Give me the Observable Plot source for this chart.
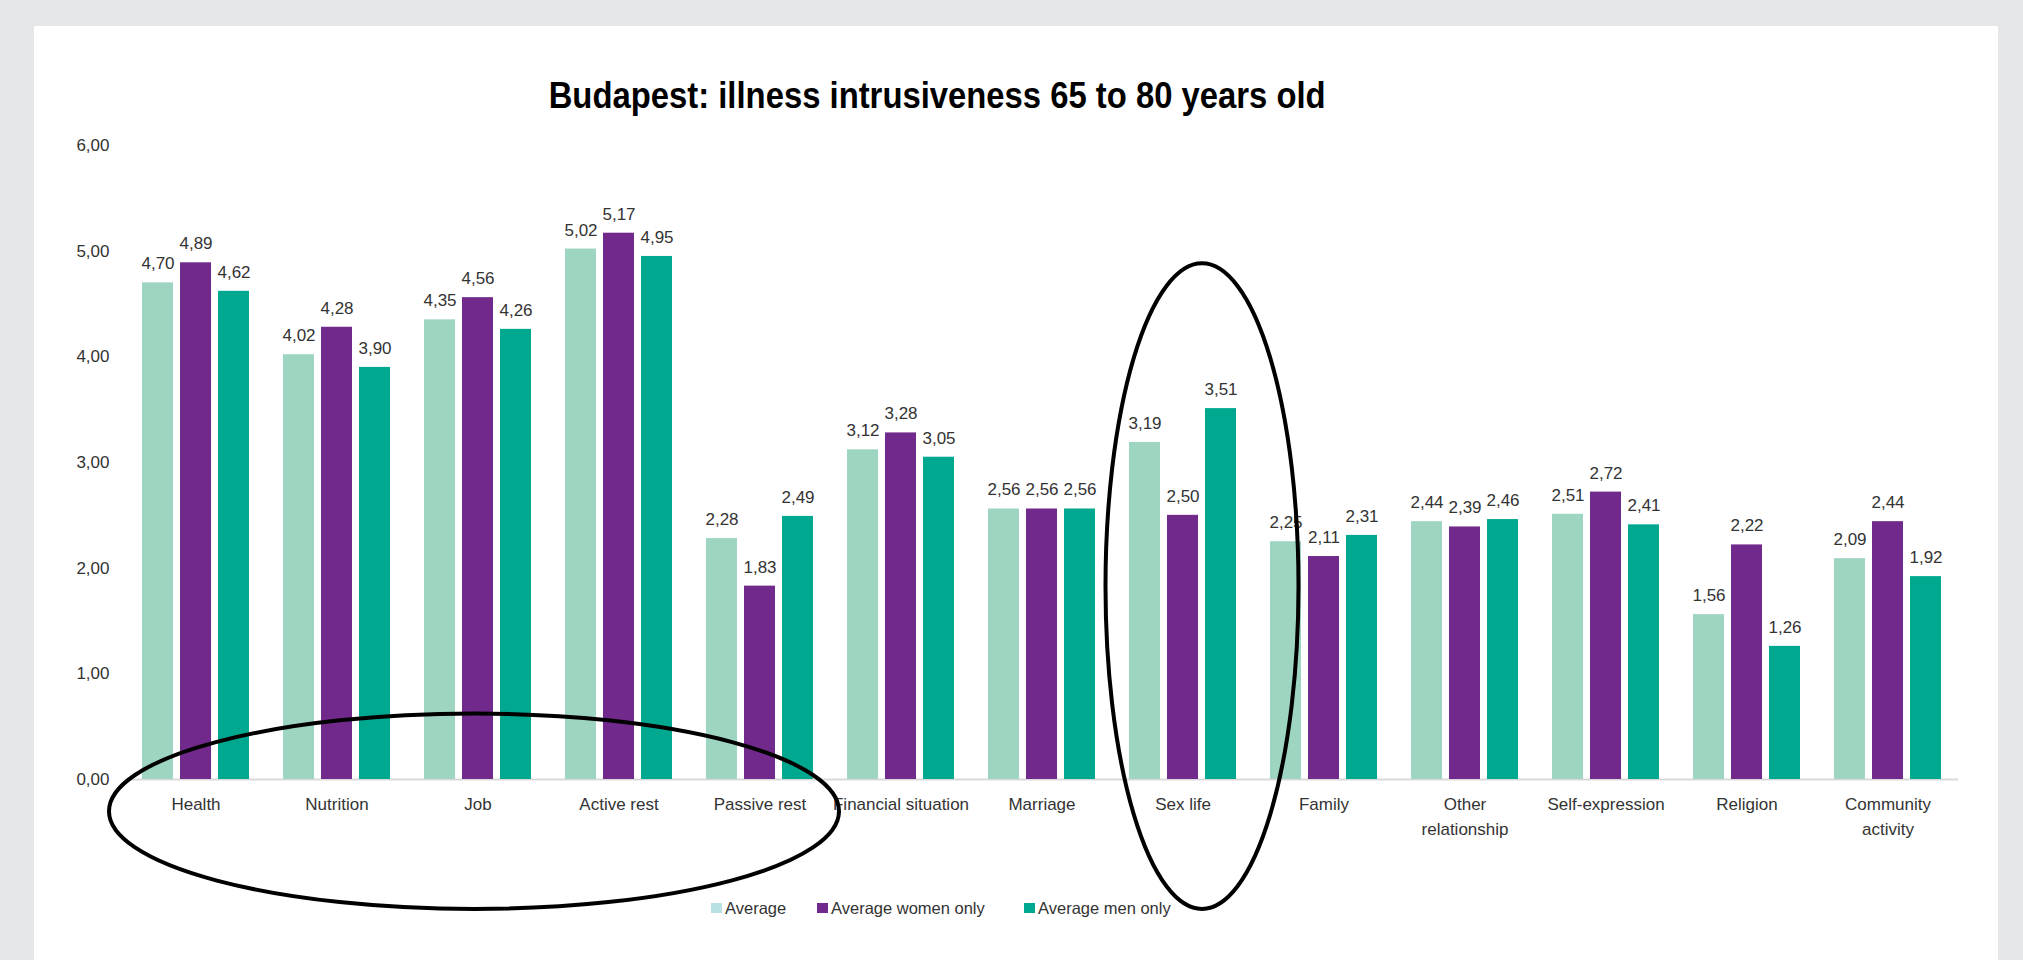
<!DOCTYPE html>
<html>
<head>
<meta charset="utf-8">
<script src="https://cdn.jsdelivr.net/npm/d3@7"></script>
<script src="https://cdn.jsdelivr.net/npm/@observablehq/plot@0.6"></script>
<style>
  html, body { margin: 0; padding: 0; }
  body { width: 2023px; height: 960px; overflow: hidden; background: #e6e7e9; font-family: "Liberation Sans", Arial, sans-serif; }
  #panel { position: absolute; left: 34px; top: 26px; width: 1964px; height: 934px; background: #ffffff; }
  #title { position: absolute; left: 0; top: 52px; width: 1807px; text-align: center; font-size: 36px; line-height: 36px; font-weight: bold; color: #000; white-space: nowrap; }
  #title span { display: inline-block; transform-origin: 50% 50%; }
  #chart { position: absolute; left: 0; top: 100px; }
  #legend { position: absolute; left: 0; top: 872px; width: 1964px; height: 20px; }
  .item { position: absolute; top: 0; height: 20px; display: flex; align-items: center; font-size: 16.5px; color: #333; white-space: nowrap; }
  .sw { width: 11px; height: 10px; margin-right: 3px; }
</style>
</head>
<body>
<div id="panel">
  <div id="title"><span>Budapest: illness intrusiveness 65 to 80 years old</span></div>
  <div id="chart"></div>
  <div id="legend"></div>
</div>
<script>
// ---- data ----
const categories = ["Health", "Nutrition", "Job", "Active rest", "Passive rest", "Financial situation", "Marriage", "Sex life", "Family", "Other relationship", "Self-expression", "Religion", "Community activity"];
const tickLabels = ["Health", "Nutrition", "Job", "Active rest", "Passive rest", "Financial situation", "Marriage", "Sex life", "Family", "Other\nrelationship", "Self-expression", "Religion", "Community\nactivity"];
const seriesNames = ["Average", "Average women only", "Average men only"];
const average = [4.70, 4.02, 4.35, 5.02, 2.28, 3.12, 2.56, 3.19, 2.25, 2.44, 2.51, 1.56, 2.09];
const women   = [4.89, 4.28, 4.56, 5.17, 1.83, 3.28, 2.56, 2.50, 2.11, 2.39, 2.72, 2.22, 2.44];
const men     = [4.62, 3.90, 4.26, 4.95, 2.49, 3.05, 2.56, 3.51, 2.31, 2.46, 2.41, 1.26, 1.92];
const yTicks = [0, 1, 2, 3, 4, 5, 6];
// hand-drawn highlight ellipses, in data terms (categories spanned, value range)
const annotations = [
  { from: "Health", to: "Passive rest", top: 0.62, bottom: -1.23 },
  { from: "Sex life", to: "Sex life", top: 4.88, bottom: -1.23 }
];

// ---- styles ----
const seriesColors = ["#9dd5c1", "#71298c", "#00a88f"];
const legendColors = ["#b9e0e2", "#71298c", "#00a88f"];
const annotationStyle = [{ padX: 12.5, shiftX: -3.5 }, { padX: 26, shiftX: 19.5 }];
const legendLefts = [677, 783, 990];

const values = [average, women, men];
const rows = categories.flatMap((c, i) => seriesNames.map((s, j) => ({ category: c, series: s, value: values[j][i] })));
const fmt = v => v.toFixed(2).replace(".", ",");

const chart = Plot.plot({
  width: 1964,
  height: 770,
  marginTop: 19,
  marginLeft: 88,
  marginRight: 38,
  marginBottom: 117,
  style: { fontFamily: "'Liberation Sans', Arial, sans-serif", fontSize: "17px", color: "#333", background: "transparent", overflow: "visible" },
  fx: { domain: categories, padding: 0, label: null, axis: null },
  x: { domain: seriesNames, paddingInner: 0.187, paddingOuter: 0.406, axis: null },
  y: { domain: [0, 6], ticks: yTicks, tickFormat: fmt, tickSize: 0, tickPadding: 16, label: null },
  color: { domain: seriesNames, range: seriesColors },
  marks: [
    Plot.ruleY([0], { stroke: "#d9d9d9", strokeWidth: 2 }),
    Plot.barY(rows, { fx: "category", x: "series", y: "value", fill: "series" }),
    Plot.text(rows, { fx: "category", x: "series", y: "value", text: d => fmt(d.value), dy: -19, fontSize: 17, fill: "#333" }),
    Plot.axisFx({ anchor: "bottom", tickSize: 0, tickPadding: 12, tickFormat: d => tickLabels[categories.indexOf(d)], lineHeight: 1.5, fontSize: 17, label: null })
  ]
});
document.getElementById("chart").appendChild(chart);

// ---- annotation ellipses via the plot's own scales ----
const fxS = chart.scale("fx");
const yS = chart.scale("y");
const fxApply = fxS.apply ? (v => fxS.apply(v)) : (() => {
  const s = d3.scaleBand(fxS.domain, fxS.range).paddingInner(fxS.paddingInner ?? 0).paddingOuter(fxS.paddingOuter ?? 0).align(fxS.align ?? 0.5);
  return v => s(v);
})();
const bw = fxS.bandwidth != null ? fxS.bandwidth : (fxS.range[1] - fxS.range[0]) / fxS.domain.length;
const yApply = yS.apply ? (v => yS.apply(v)) : (() => { const s = d3.scaleLinear(yS.domain, yS.range); return v => s(v); })();

const g = d3.select(chart).append("g").attr("fill", "none").attr("stroke", "#000").attr("stroke-width", 4);
annotations.forEach((a, i) => {
  const st = annotationStyle[i];
  const x1 = fxApply(a.from), x2 = fxApply(a.to) + bw;
  const y1 = yApply(a.top), y2 = yApply(a.bottom);
  g.append("ellipse")
    .attr("cx", (x1 + x2) / 2 + st.shiftX)
    .attr("cy", (y1 + y2) / 2)
    .attr("rx", (x2 - x1) / 2 + st.padX)
    .attr("ry", Math.abs(y2 - y1) / 2);
});

// ---- legend ----
const legend = document.getElementById("legend");
seriesNames.forEach((s, i) => {
  const it = document.createElement("div");
  it.className = "item";
  it.style.left = legendLefts[i] + "px";
  const sw = document.createElement("div");
  sw.className = "sw";
  sw.style.background = legendColors[i];
  it.appendChild(sw);
  it.appendChild(document.createTextNode(s));
  legend.appendChild(it);
});

// ---- fit title to the condensed width of the original ----
const span = document.querySelector("#title span");
const w = span.getBoundingClientRect().width;
if (w > 0) span.style.transform = `scaleX(${(777 / w).toFixed(4)})`;
</script>
</body>
</html>
